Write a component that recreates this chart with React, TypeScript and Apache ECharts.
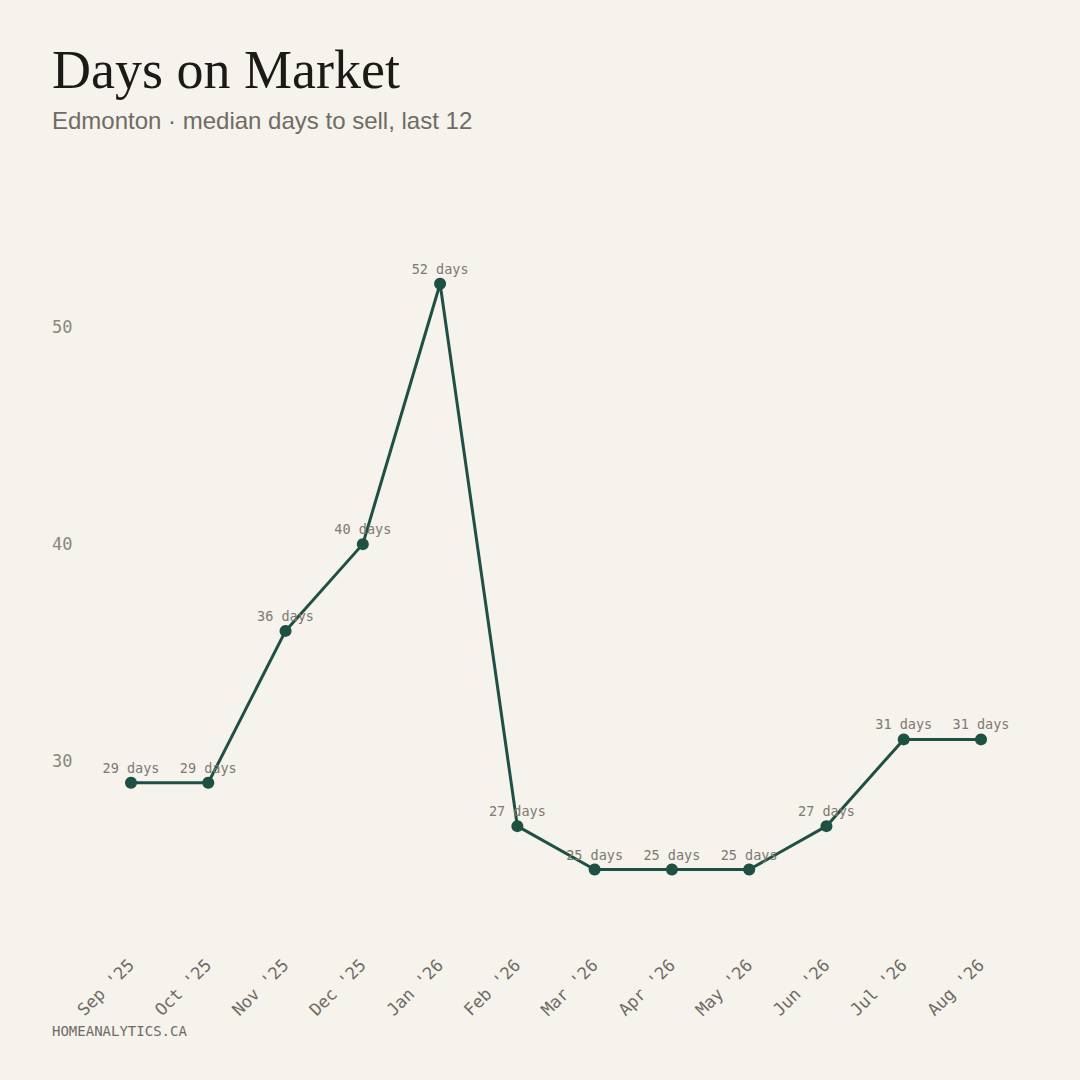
import React, { useEffect, useRef } from "react";
import * as echarts from "echarts";

const months = ["Sep '25", "Oct '25", "Nov '25", "Dec '25", "Jan '26", "Feb '26", "Mar '26", "Apr '26", "May '26", "Jun '26", "Jul '26", "Aug '26"];
const medianDays = [29, 29, 36, 40, 52, 27, 25, 25, 25, 27, 31, 31];
const yTickLabels = [30, 40, 50];

const TITLE = "Days on Market";
const SUBTITLE = "Edmonton · median days to sell, last 12";
const FOOTER = "HOMEANALYTICS.CA";

const MONO = "'DejaVu Sans Mono', monospace";
const LINE = "#1e5044";
const BG = "#f6f2ec";

export default function App() {
  const ref = useRef<HTMLDivElement>(null);
  useEffect(() => {
    document.body.style.margin = "0";
    document.body.style.background = BG;
    const chart = echarts.init(ref.current!, null, { renderer: "svg" });
    chart.setOption({
      animation: false,
      backgroundColor: BG,
      title: [
        {
          text: TITLE,
          left: 52,
          top: 43,
          padding: 0,
          textStyle: { fontFamily: "'Liberation Serif', serif", fontSize: 54, lineHeight: 54, fontWeight: "normal", color: "#1c1a17" },
        },
        {
          text: SUBTITLE,
          left: 52,
          top: 108,
          padding: 0,
          textStyle: { fontFamily: "'Liberation Sans', sans-serif", fontSize: 24, lineHeight: 24, fontWeight: "normal", color: "#6f6b65" },
        },
        {
          text: FOOTER,
          left: 52,
          top: 1024,
          padding: 0,
          textStyle: { fontFamily: MONO, fontSize: 14, lineHeight: 14, fontWeight: "normal", color: "#6f6b65" },
        },
      ],
      grid: { left: 131, right: 99, top: 197, bottom: 128, containLabel: false },
      xAxis: {
        type: "category",
        data: months,
        boundaryGap: false,
        axisLine: { show: false },
        axisTick: { show: false },
        splitLine: { show: false },
        axisLabel: {
          rotate: 45,
          margin: 10,
          interval: 0,
          fontFamily: MONO,
          fontSize: 17,
          color: "#6f6b65",
        },
      },
      yAxis: {
        type: "value",
        min: 21.2,
        max: 56,
        axisLine: { show: false },
        axisTick: { show: false },
        splitLine: { show: false },
        axisLabel: {
          align: "left",
          margin: 79,
          fontFamily: MONO,
          fontSize: 17,
          color: "#8a8680",
          showMinLabel: false,
          showMaxLabel: false,
          formatter: (v: number) => (yTickLabels.includes(v) ? String(v) : ""),
        },
      },
      series: [
        {
          type: "line",
          data: medianDays,
          symbol: "circle",
          symbolSize: 12,
          lineStyle: { color: LINE, width: 3 },
          itemStyle: { color: LINE },
          label: {
            show: true,
            position: "top",
            distance: 2,
            formatter: (p: any) => `${p.value} days`,
            fontFamily: MONO,
            fontSize: 13.5,
            color: "#7d7973",
          },
        },
      ],
    });
    return () => chart.dispose();
  }, []);
  return <div ref={ref} style={{ width: 1080, height: 1080 }} />;
}
